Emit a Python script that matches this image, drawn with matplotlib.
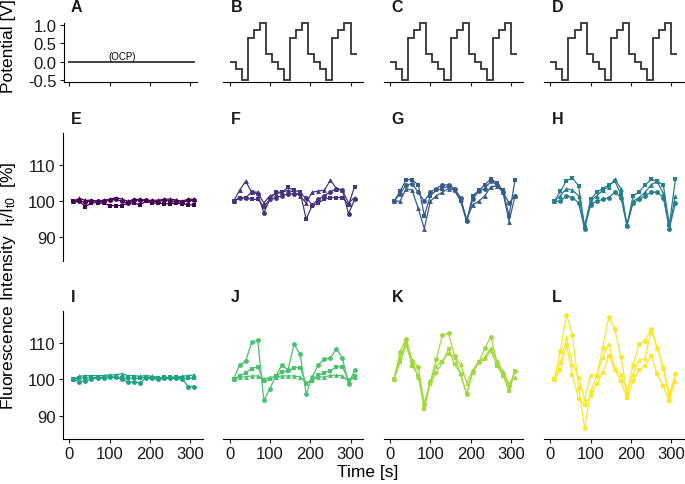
import numpy as np
import matplotlib
matplotlib.use("Agg")
import matplotlib.pyplot as plt

plt.rcParams['font.family'] = ['Liberation Sans', 'DejaVu Sans']
plt.rcParams['mathtext.fontset'] = 'custom'
plt.rcParams['mathtext.rm'] = 'Liberation Sans'
plt.rcParams['mathtext.it'] = 'Liberation Sans:italic'

# ---------------- data ----------------
times = [10, 25, 40, 55, 70, 85, 100, 115, 130, 145, 160, 175, 190, 205, 220, 235, 250, 265, 280, 295, 310]

pot_edges = [0, 15, 30, 45, 60, 75, 90, 105, 120, 135, 150, 165, 180, 195, 210, 225, 240, 255, 270, 285, 300, 315]
pot_levels = [0, -0.2, -0.5, 0.65, 0.85, 1.05, 0.2, 0, -0.2, -0.5, 0.65, 0.85, 1.05, 0.2, 0, -0.2, -0.5, 0.65, 0.85, 1.05, 0.2]
ocp_t = [0, 310]
ocp_v = [0, 0]

E_circ = [100, 100, 99.8, 100, 100, 100, 100.3, 100.5, 100, 99.5, 100.3, 100.3, 100.2, 100, 99.9, 100.3, 100, 100, 99.7, 100.2, 100.2]
E_sq = [100, 100, 98.5, 99.5, 99.6, 99.5, 98.8, 98.8, 98.8, 99.5, 99.5, 99, 100, 99.5, 99.5, 99.3, 99.3, 99.5, 99.3, 99, 99]
E_tri = [100, 100.8, 100.2, 100.3, 100, 100.3, 100.5, 101, 100.6, 100, 100.5, 100.5, 100.3, 100.2, 100.3, 100.5, 100.6, 100.3, 100, 100.6, 100.5]

F_circ = [100, 101, 101, 102.5, 102, 96.8, 100.5, 101, 101.5, 102, 102, 102, 101, 99, 100.5, 101.5, 102.5, 103.5, 103, 96.5, 100.5]
F_sq = [100, 100.8, 101, 100.5, 100.5, 98.5, 100.5, 102.5, 102.5, 103.8, 103, 102.5, 95.1, 98.8, 99.5, 100.5, 101, 101, 101, 99, 104]
F_tri = [100, 103, 105.5, 102.5, 102.5, 99.5, 101.5, 102, 102.5, 103, 102.5, 101.5, 99.5, 102.5, 102.8, 103, 105.8, 103.5, 103, 99.5, 101]

G_circ = [100, 102, 104.5, 104.8, 102.5, 100, 102.5, 103.5, 104.5, 104.5, 103.5, 101, 94.5, 100.5, 102.8, 103.5, 105.5, 104.5, 102.5, 99.5, 101.5]
G_sq = [100, 102.8, 105.9, 105.9, 104.5, 96, 101.5, 103, 103.5, 104.2, 103, 100, 94.5, 101.5, 103, 104.5, 106.2, 105, 103, 96, 105.9]
G_tri = [100, 100, 103.5, 103, 98, 92.4, 100, 101.5, 102.5, 103.5, 103, 100.5, 95, 99, 100, 101.5, 104, 104.2, 102.5, 94.4, 101.5]

H_circ = [100, 100, 101.5, 101, 99.5, 92.4, 99, 100, 100.5, 101, 102.5, 101, 93.3, 99.5, 100.5, 101.5, 102.5, 102.5, 101, 92.4, 99.5]
H_sq = [100, 102.7, 105.7, 106.3, 104.3, 93, 100.5, 102.5, 103.5, 104.5, 105.5, 102, 93.3, 101.5, 102.5, 104.5, 106, 105.5, 104.5, 93.5, 106]
H_tri = [100, 101.5, 103.5, 103, 101.5, 93, 100, 101.5, 103, 104, 106, 103.5, 93.5, 100, 101, 102.5, 104.5, 105.5, 102, 92.8, 101.5]

I_circ = [100, 99.3, 99.6, 100, 100.3, 100.3, 100.5, 100.5, 100, 99.2, 99.3, 99, 100.3, 100.2, 100, 100.2, 100.2, 100.2, 100, 98, 98]
I_sq = [100, 100.3, 100.3, 100.5, 100.5, 100.5, 100.7, 100.5, 100.3, 100.3, 100.3, 100.3, 100.5, 100.3, 100.3, 100.5, 100.5, 100.5, 100.3, 100.3, 100.3]
I_tri = [100, 100.8, 101, 101, 101, 101, 101.2, 101.2, 101.5, 101, 101, 100.8, 101, 100.8, 100.5, 100.5, 100.5, 100.6, 100.8, 101, 101.2]

J_circ = [100, 103.9, 104.9, 110.1, 110.7, 94.2, 97.4, 100.9, 103.9, 102.5, 109.6, 106.9, 95.9, 100.7, 103.9, 105.6, 105.8, 108.3, 105.7, 98.8, 102.5]
J_sq = [100, 100.9, 101.8, 102.9, 103.4, 99.4, 100, 100.9, 102, 102.3, 103.2, 103.2, 98.8, 99.5, 101.1, 101.8, 102.3, 103.4, 103.4, 99.7, 100.9]
J_tri = [100, 100.5, 100.7, 100.9, 100.9, 100, 100.5, 100.6, 100.9, 100.9, 100.9, 100.6, 99, 100, 100.6, 100.6, 101.1, 101.1, 100.9, 99.5, 100.5]

K_circ = [100, 107.6, 111, 105, 103.4, 93.1, 99.5, 105.5, 112.2, 112.6, 106.4, 101.4, 95.9, 102.3, 104.6, 108.5, 111.7, 104.6, 101.4, 98.2, 102.3]
K_sq = [100, 104.6, 109.4, 103.7, 101, 91.7, 99, 101.8, 104.6, 108.3, 104.1, 101.4, 95.9, 101.8, 104.6, 105.5, 107.8, 103.7, 101, 96.8, 102.3]
K_tri = [100, 106, 110.1, 105.2, 100.5, 93.6, 99, 103.7, 105, 107.3, 106, 104.1, 99, 102.3, 105, 106, 108.7, 105, 102.3, 98.6, 100.5]

L_circ = [100, 107.8, 117.7, 112.2, 97.7, 86.5, 96.8, 100.9, 108.7, 117, 113.8, 106.1, 96.3, 103.9, 109.6, 110.6, 113.8, 108.7, 103.2, 95.9, 101.4]
L_sq = [100, 102.5, 109.4, 101.2, 94.5, 93, 95.4, 98.6, 101.8, 106.4, 102.8, 99.5, 94.8, 99.5, 102.5, 103.7, 106.4, 101.4, 98.2, 94, 101.4]
L_tri = [100, 104.6, 111.5, 104.1, 100.6, 94.5, 101.2, 101.2, 106, 109.8, 102.8, 101.4, 96.6, 101.4, 105.2, 105.8, 113.3, 108.7, 103.2, 95, 99.5]

panel_colors = ['#440154', '#46337E', '#365C8D', '#277F8E', '#1FA187', '#4AC16D', '#9FDA3A', '#FDE725']
x_ticks = [0, 100, 200, 300]
pot_ticks = [-0.5, 0.0, 0.5, 1.0]
pot_ticklabels = ['-0.5', '0.0', '0.5', '1.0']
fl_ticks = [90, 100, 110]

fluor = [
    ('E', E_circ, E_sq, E_tri), ('F', F_circ, F_sq, F_tri),
    ('G', G_circ, G_sq, G_tri), ('H', H_circ, H_sq, H_tri),
    ('I', I_circ, I_sq, I_tri), ('J', J_circ, J_sq, J_tri),
    ('K', K_circ, K_sq, K_tri), ('L', L_circ, L_sq, L_tri),
]

# ---------------- layout ----------------
W, H = 685, 485
fig = plt.figure(figsize=(W / 100, H / 100), dpi=100)

kpx = 0.4035  # px per second
col_x0 = [69.3, 229.5, 390.0, 550.3]
rows = {0: (24.0, 82.7), 1: (134.0, 261.7), 2: (311.7, 440.0)}
XL_MAIN = (-15.75, 330.75)
XL_A = (-13, 316)
YL_POT = (-0.54, 1.05)
YL_FL = (83.6, 118.8)

def make_ax(row, col, xlim):
    top, bot = rows[row]
    left = col_x0[col] + xlim[0] * kpx
    width = (xlim[1] - xlim[0]) * kpx
    ax = fig.add_axes([left / W, 1 - bot / H, width / W, (bot - top) / H])
    ax.set_xlim(*xlim)
    ax.patch.set_alpha(0)
    for s in ['top', 'right']:
        ax.spines[s].set_visible(False)
    for s in ['left', 'bottom']:
        ax.spines[s].set_linewidth(0.8)
    ax.tick_params(length=3.2, width=0.8, labelsize=12, pad=2, colors='#1a1a1a')
    return ax

def hide_y(ax):
    ax.spines['left'].set_visible(False)
    ax.set_yticks([])

def hide_x(ax):
    ax.spines['bottom'].set_visible(False)
    ax.set_xticks([])

letter_kw = dict(fontsize=11.5, fontweight='bold', ha='left', va='center', color='#1a1a1a')

# top row: potential
for c, lab in enumerate(['A', 'B', 'C', 'D']):
    xl = XL_A if c == 0 else XL_MAIN
    ax = make_ax(0, c, xl)
    ax.set_ylim(*YL_POT)
    if c == 0:
        ax.plot(ocp_t, ocp_v, color='#333333', lw=1.3, clip_on=False)
        ax.text(132, 0.03, '(OCP)', fontsize=7, ha='center', va='bottom')
        ax.set_yticks(pot_ticks)
        ax.set_yticklabels(pot_ticklabels)
    else:
        ax.stairs(pot_levels, pot_edges, baseline=None, color='#333333', lw=1.3, clip_on=False)
        hide_y(ax)
    ax.set_xticks(x_ticks)
    ax.set_xticklabels([])
    fig.text((col_x0[c] + 1.5) / W, 1 - 8 / H, lab, **letter_kw)

# fluorescence rows
for i, (lab, yc, ys, yt) in enumerate(fluor):
    row = 1 + i // 4
    c = i % 4
    ax = make_ax(row, c, XL_MAIN)
    ax.set_ylim(*YL_FL)
    col = panel_colors[i]
    kw = dict(color=col, lw=0.9, markersize=3.5, markeredgewidth=0, clip_on=False)
    ax.plot(times, yc, marker='o', **kw)
    ax.plot(times, ys, marker='s', **kw)
    ax.plot(times, yt, marker='^', **kw)
    if c == 0:
        ax.set_yticks(fl_ticks)
    else:
        hide_y(ax)
    if row == 2:
        ax.set_xticks(x_ticks)
    else:
        hide_x(ax)
    ly = 120 if row == 1 else 298
    fig.text((col_x0[c] + 1.5) / W, 1 - ly / H, lab, **letter_kw)

# axis titles
fig.text(9 / W, 1 - 46 / H, 'Potential [V]', rotation=90, ha='center', va='center', fontsize=12.5)
fig.text(9 / W, 1 - 286 / H, r'Fluorescence Intensity  $\mathregular{I_t/I_{t0}}$  [%]',
         rotation=90, ha='center', va='center', fontsize=12.5)
fig.text(368 / W, 1 - 473 / H, 'Time [s]', ha='center', va='center', fontsize=12.5)

fig.savefig('out.png', dpi=100)
